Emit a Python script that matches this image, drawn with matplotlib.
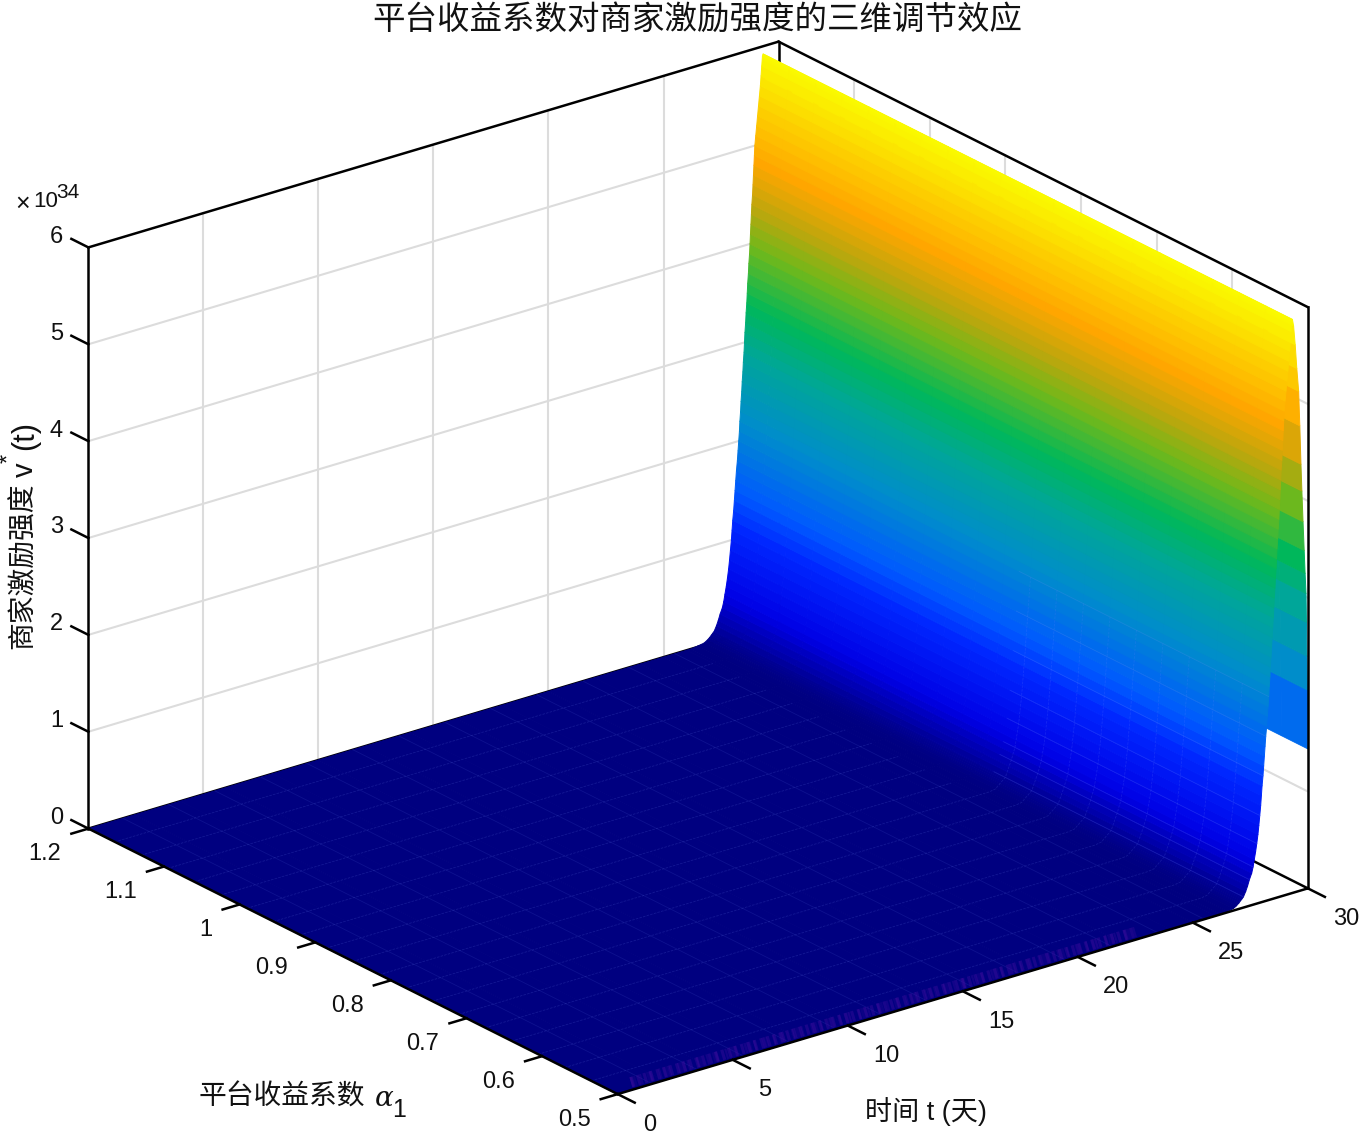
import numpy as np
import matplotlib
matplotlib.use("Agg")
import matplotlib.pyplot as plt
from matplotlib.colors import LinearSegmentedColormap
from mpl_toolkits.mplot3d import proj3d

plt.rcParams['font.family'] = ['Liberation Sans', 'Noto Sans CJK SC']

# ================= DATA =================
t_floor = [0, 2, 4, 6, 8, 10, 12, 14, 16, 18, 20, 22, 24, 25, 26, 26.2]
v_floor = [0, 0, 0, 0, 0, 0, 0, 0, 0, 0, 0, 0, 0, 0, 0, 0]

t_low = [26.5, 26.76, 26.9, 27.0, 27.08, 27.14, 27.2, 27.3, 27.38, 27.46, 27.56, 27.62, 27.67, 27.73, 27.78,
         27.83, 27.87, 27.91, 27.95]
v_low = [0.01, 0.02, 0.04, 0.06, 0.08, 0.095, 0.11, 0.16, 0.21, 0.27, 0.33, 0.39, 0.46, 0.54, 0.62,
         0.71, 0.8, 0.9, 1.0]

t_rise = [27.98, 28.01, 28.05, 28.08, 28.11, 28.14, 28.17, 28.21, 28.24, 28.27,
          28.30, 28.32, 28.35, 28.37, 28.40, 28.42, 28.45, 28.47, 28.50, 28.52,
          28.54, 28.57, 28.59, 28.62, 28.64, 28.66, 28.69, 28.71, 28.74, 28.76,
          28.78, 28.80, 28.82, 28.84, 28.87, 28.89, 28.91, 28.93, 28.95, 28.97,
          29.01, 29.05, 29.09, 29.13, 29.17, 29.21, 29.24, 29.27, 29.30, 29.33]
v_rise = [1.1, 1.2, 1.3, 1.4, 1.5, 1.6, 1.7, 1.8, 1.9, 2.0,
          2.1, 2.2, 2.3, 2.4, 2.5, 2.6, 2.7, 2.8, 2.9, 3.0,
          3.1, 3.2, 3.3, 3.4, 3.5, 3.6, 3.7, 3.8, 3.9, 4.0,
          4.1, 4.2, 4.3, 4.4, 4.5, 4.6, 4.7, 4.8, 4.9, 5.0,
          5.1, 5.2, 5.3, 5.4, 5.5, 5.6, 5.7, 5.8, 5.9, 5.92]

t_fall = [29.38, 29.45, 29.52, 29.6, 29.65, 29.7, 29.74, 29.79, 29.84, 29.88, 29.92, 29.94, 29.96, 29.98, 30]
v_fall = [5.85, 5.65, 5.4, 5.16, 4.8, 4.4, 4.12, 3.8, 3.5, 3.26, 3.05, 2.75, 2.4, 2.05, 1.44]

alpha_values = [0.5, 0.535, 0.57, 0.605, 0.64, 0.675, 0.71, 0.745, 0.78, 0.815, 0.85,
                0.885, 0.92, 0.955, 0.99, 1.025, 1.06, 1.095, 1.13, 1.165, 1.2]

t_ticks = [0, 5, 10, 15, 20, 25, 30]
alpha_ticks = [0.5, 0.6, 0.7, 0.8, 0.9, 1.0, 1.1, 1.2]
alpha_tick_labels = ['0.5', '0.6', '0.7', '0.8', '0.9', '1', '1.1', '1.2']
z_ticks = [0, 1, 2, 3, 4, 5, 6]

cmap_levels = [0, 0.45, 1.14, 1.5, 2.2, 2.9, 3.4, 4.0, 4.4, 4.85, 5.92]
cmap_colors = [(0, 0, 0.5), (0, 0, 0.9), (0, 0.15, 1), (0, 0.35, 1), (0, 0.55, 0.8), (0, 0.65, 0.6),
               (0, 0.72, 0.35), (0.45, 0.72, 0.1), (0.75, 0.65, 0.05), (1, 0.65, 0), (0.98, 0.98, 0)]

# faint mesh seen on the surface
mesh_t_floor = [1.5, 3.5, 5.5, 7.5, 9.5, 11.5, 13.5, 15.5, 17.5, 19.5, 21.5, 23.5, 25.5]
mesh_t_rise = [27.2, 27.46, 27.62, 27.78, 27.91, 28.05, 28.17, 28.3]
mesh_v_rise = [0.11, 0.27, 0.39, 0.62, 0.9, 1.3, 1.7, 2.1]

# ================= FIGURE =================
W, H = 1361, 1134
fig = plt.figure(figsize=(W / 100, H / 100), dpi=100)
S = 1341
cx, cy = 680, 586
ax = fig.add_axes([(cx - S / 2) / W, (H - cy - S / 2) / H, S / W, S / H], projection='3d')
ax.set_proj_type('ortho')
ax.view_init(elev=22.75, azim=-127.63)
ax.set_box_aspect((872.5, 868, 631))
ax.set_xlim(0, 30)
ax.set_ylim(0.5, 1.2)
ax.set_zlim(0, 6)
ax.set_axis_off()
ax.computed_zorder = False

# ================= SURFACE =================
t_all = np.array(t_floor + t_low + t_rise + t_fall)
v_all = np.array(v_floor + v_low + v_rise + v_fall)
T, A = np.meshgrid(t_all, alpha_values)
V = np.tile(v_all, (len(alpha_values), 1))

stops = [lv / cmap_levels[-1] for lv in cmap_levels]
cmap = LinearSegmentedColormap.from_list("merchant", list(zip(stops, cmap_colors)), N=512)

# colour of each cell comes from its mean height
cell_v = V.copy()
cell_v[:, :-1] = 0.5 * (V[:, :-1] + V[:, 1:])
face_colors = cmap(cell_v / cmap_levels[-1])

ax.plot_surface(T, A, V, facecolors=face_colors, rstride=1, cstride=1,
                shade=False, linewidth=0.7, antialiased=True, zorder=2)

# ================= FAINT MESH =================
mesh_col = (0.45, 0.55, 1.0)
for a in alpha_values[1:-1]:
    if a < 0.83:
        tt = [0] + t_low[:2] + mesh_t_rise
        vv = [0] + v_low[:2] + mesh_v_rise
    else:
        tt = [0, 26]
        vv = [0, 0]
    ax.plot(tt, [a] * len(tt), vv, color=mesh_col, alpha=0.16, lw=0.6, ls=(0, (3, 1.5)), zorder=2.5)
for t in mesh_t_floor:
    ax.plot([t, t], [0.5, 1.2], [0, 0], color=mesh_col, alpha=0.12, lw=0.6, zorder=2.5)
for t, vv in zip(mesh_t_rise, mesh_v_rise):
    ax.plot([t, t], [0.5, 0.83], [vv, vv], color=mesh_col, alpha=0.2, lw=0.6, zorder=2.5)

# purple moire strip along the front edge
for dash, gap, a_val in [(0.3, 0.35, 0.4), (0.2, 0.75, 0.3), (0.55, 1.1, 0.2)]:
    ax.plot([1, 23], [0.513, 0.513], [0, 0], color=(0.24, 0.05, 0.62), alpha=a_val, lw=7.5,
            ls=(0, (dash, gap)), dash_capstyle='butt', zorder=2.6)


# ================= BOX AND GRID =================
def seg(p0, p1, color='black', lw=1.8, z=3):
    ax.plot([p0[0], p1[0]], [p0[1], p1[1]], [p0[2], p1[2]], color=color, lw=lw, zorder=z,
            solid_capstyle='projecting')


grid_col = '#dcdcdc'
for t in t_ticks[1:-1]:
    seg((t, 1.2, 0), (t, 1.2, 6), grid_col, 1.5, 1)
for a in alpha_ticks[1:-1]:
    seg((30, a, 0), (30, a, 6), grid_col, 1.5, 1)
for zv in z_ticks[1:-1]:
    seg((0, 1.2, zv), (30, 1.2, zv), grid_col, 1.5, 1)
    seg((30, 1.2, zv), (30, 0.5, zv), grid_col, 1.5, 1)

# back edges go behind the surface
seg((0, 1.2, 6), (30, 1.2, 6), z=1)
seg((30, 1.2, 6), (30, 0.5, 6), z=1)
seg((30, 1.2, 0), (30, 1.2, 6), z=1)
seg((0, 1.2, 0), (30, 1.2, 0), z=1)
seg((30, 1.2, 0), (30, 0.5, 0), z=1)
# front edges stay on top
seg((0, 1.2, 0), (0, 1.2, 6))
seg((30, 0.5, 0), (30, 0.5, 6))
seg((0, 0.5, 0), (30, 0.5, 0))
seg((0, 0.5, 0), (0, 1.2, 0))

for zv in z_ticks:
    seg((0, 1.2, zv), (0, 1.2225, zv))
for t in t_ticks:
    seg((t, 0.5, 0), (t, 0.4775, 0))
for a in alpha_ticks:
    seg((0, a, 0), (-0.74, a, 0))


# ================= TEXT =================
def tick_label(x, y, z, dx, dy, s, ha):
    px, py, _ = proj3d.proj_transform(x, y, z, ax.get_proj())
    ax.annotate(s, xy=(px, py), xytext=(dx, dy), textcoords='offset pixels', ha=ha, va='center',
                fontsize=17, annotation_clip=False, color='#111111')


for zv in z_ticks:
    tick_label(0, 1.2, zv, -25.5, 10.5, str(zv), 'right')
for t in t_ticks:
    tick_label(t, 0.5, 0, 25, -30.5, str(t), 'left')
for a, lab in zip(alpha_ticks, alpha_tick_labels):
    tick_label(0, a, 0, -27, -25.5, lab, 'right')


def label(x, y, s, size, **kw):
    kw.setdefault('ha', 'center')
    kw.setdefault('va', 'center')
    kw.setdefault('color', '#111111')
    fig.text(x / W, 1 - y / H, s, fontsize=size, **kw)


label(697.5, 20, '平台收益系数对商家激励强度的三维调节效应', 23.4)
label(282, 1098, '平台收益系数', 20)
label(384, 1098, 'α', 20, family='DejaVu Serif', style='italic')
label(399, 1110, '1', 18)
label(926, 1112, '时间 t (天)', 19.5)

label(24, 566, '商家激励强度', 20, rotation=90)
label(25, 470, 'v', 21, rotation=90)
label(9, 458, '*', 17, rotation=90)
label(25, 435, '(t)', 22, rotation=90)

label(23, 204, '×', 18)
label(46, 202, '10', 16)
label(68, 192, '34', 15)

fig.savefig('out.png', dpi=100)
